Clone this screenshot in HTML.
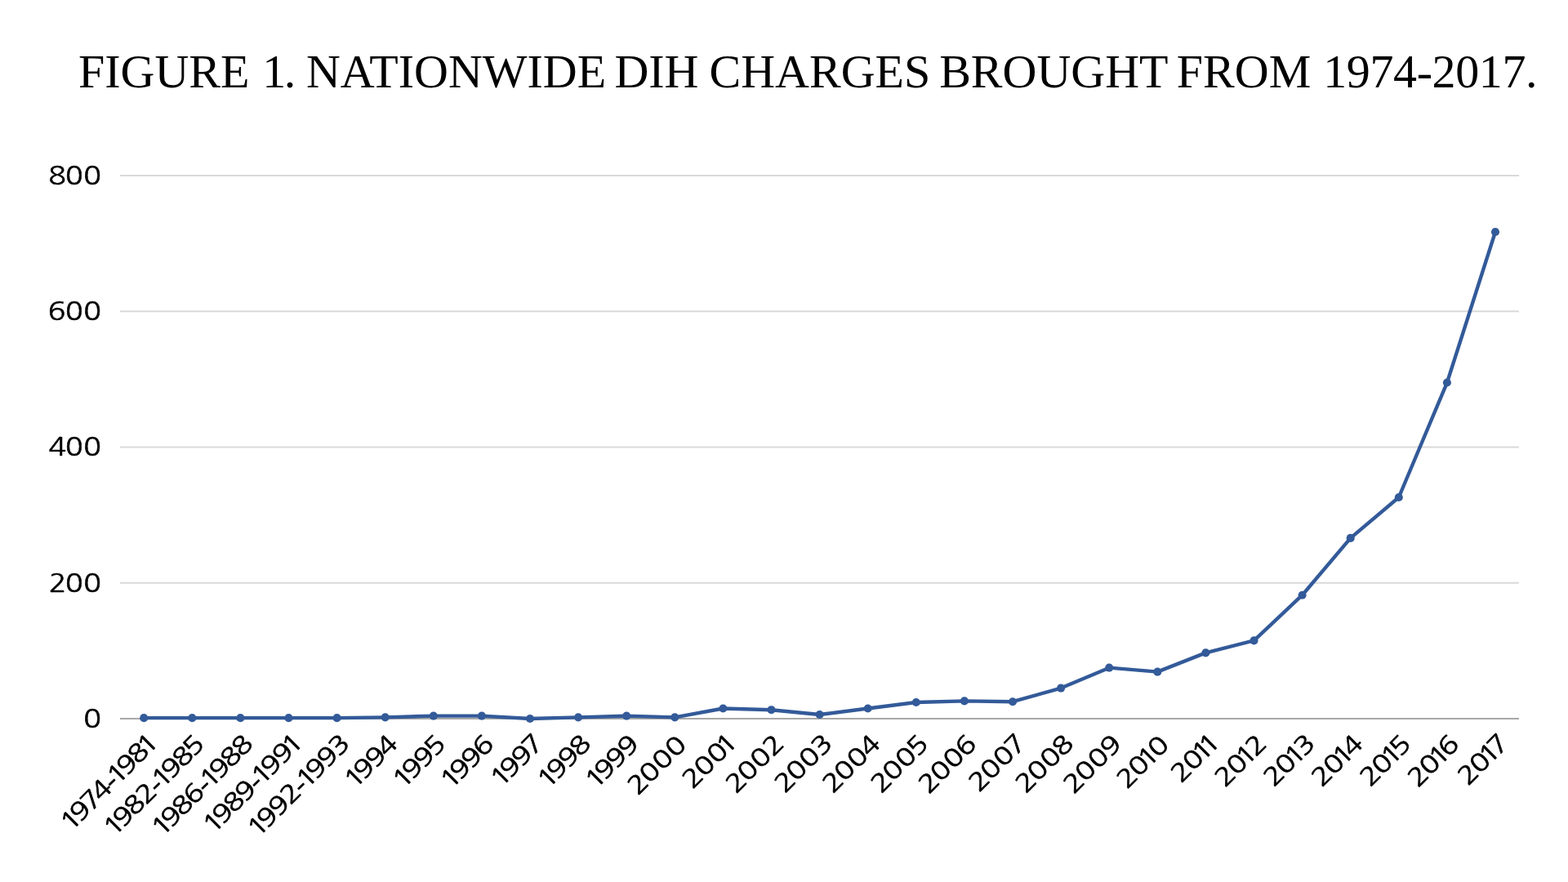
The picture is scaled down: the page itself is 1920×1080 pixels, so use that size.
<!DOCTYPE html>
<html lang="en">
<head>
<meta charset="utf-8">
<title>Figure 1. Nationwide DIH charges brought from 1974-2017.</title>
<style>
html,body{margin:0;padding:0;background:#fff;}
body{width:1920px;height:1080px;overflow:hidden;position:relative;}
svg{position:absolute;left:0;top:0;display:block;}
.title{font-family:"Liberation Serif",serif;font-size:58px;fill:#000;}
.lab{font-family:NanumGothic, "DejaVu Sans", "Liberation Sans", sans-serif;font-size:29.8px;fill:#000;stroke:#000;stroke-width:0.65;stroke-linejoin:round;}
.ylabels{stroke-width:0.5;}
.grid line{stroke:#d9d9d9;stroke-width:2;}
.axis{stroke:#a8a8a8;stroke-width:2;}
.series polyline{fill:none;stroke:#335a99;stroke-width:4.4;stroke-linejoin:round;stroke-linecap:round;}
.series circle{fill:#335a99;}
</style>
</head>
<body>
<svg width="1920" height="1080" viewBox="0 0 1920 1080">
<rect x="0" y="0" width="1920" height="1080" fill="#ffffff"/>
<text class="title" xml:space="preserve" y="107"><tspan x="96">FIGURE </tspan><tspan x="321.25" style="letter-spacing:-2.4px">1. </tspan><tspan x="374.95">NATIONWIDE </tspan><tspan x="752.4">DIH </tspan><tspan x="868.5">CHARGES </tspan><tspan x="1150.2">BROUGHT </tspan><tspan x="1440.8">FROM </tspan><tspan x="1620.2" style="letter-spacing:-0.39px">1974-2017.</tspan></text>
<g class="grid">
<line x1="147" y1="215" x2="1860" y2="215"/>
<line x1="147" y1="381.25" x2="1860" y2="381.25"/>
<line x1="147" y1="547.5" x2="1860" y2="547.5"/>
<line x1="147" y1="713.75" x2="1860" y2="713.75"/>
</g>
<line class="axis" x1="147" y1="880" x2="1860" y2="880"/>
<g class="lab ylabels">
<text transform="translate(124.45 225.95) scale(1.2 1)" x="-54.3 -36.99 -18.41" y="0">800</text>
<text transform="translate(124.45 392.2) scale(1.2 1)" x="-54.72 -36.99 -18.41" y="0">600</text>
<text transform="translate(124.45 558.45) scale(1.2 1)" x="-54.21 -36.99 -18.41" y="0">400</text>
<text transform="translate(124.45 724.7) scale(1.2 1)" x="-53.89 -36.99 -18.41" y="0">200</text>
<text transform="translate(124.45 890.95) scale(1.2 1)" x="-18.41" y="0">0</text>
</g>
<g class="series">
<polyline points="176.2,879.17 235.3,879.17 294.4,879.17 353.5,879.17 412.6,879.17 471.7,878.34 530.8,876.67 589.9,876.67 649,880 708.1,878.34 767.2,876.67 826.3,878.34 885.4,867.53 944.5,869.19 1003.6,875.01 1062.7,867.53 1121.8,860.05 1180.9,858.39 1240,859.22 1299.1,842.59 1358.2,817.66 1417.3,822.64 1476.4,799.37 1535.5,784.41 1594.6,728.71 1653.7,658.89 1712.8,609.01 1771.9,468.53 1831,283.99"/>
<circle cx="176.2" cy="879.17" r="5.05"/>
<circle cx="235.3" cy="879.17" r="5.05"/>
<circle cx="294.4" cy="879.17" r="5.05"/>
<circle cx="353.5" cy="879.17" r="5.05"/>
<circle cx="412.6" cy="879.17" r="5.05"/>
<circle cx="471.7" cy="878.34" r="5.05"/>
<circle cx="530.8" cy="876.67" r="5.05"/>
<circle cx="589.9" cy="876.67" r="5.05"/>
<circle cx="649" cy="880" r="5.05"/>
<circle cx="708.1" cy="878.34" r="5.05"/>
<circle cx="767.2" cy="876.67" r="5.05"/>
<circle cx="826.3" cy="878.34" r="5.05"/>
<circle cx="885.4" cy="867.53" r="5.05"/>
<circle cx="944.5" cy="869.19" r="5.05"/>
<circle cx="1003.6" cy="875.01" r="5.05"/>
<circle cx="1062.7" cy="867.53" r="5.05"/>
<circle cx="1121.8" cy="860.05" r="5.05"/>
<circle cx="1180.9" cy="858.39" r="5.05"/>
<circle cx="1240" cy="859.22" r="5.05"/>
<circle cx="1299.1" cy="842.59" r="5.05"/>
<circle cx="1358.2" cy="817.66" r="5.05"/>
<circle cx="1417.3" cy="822.64" r="5.05"/>
<circle cx="1476.4" cy="799.37" r="5.05"/>
<circle cx="1535.5" cy="784.41" r="5.05"/>
<circle cx="1594.6" cy="728.71" r="5.05"/>
<circle cx="1653.7" cy="658.89" r="5.05"/>
<circle cx="1712.8" cy="609.01" r="5.05"/>
<circle cx="1771.9" cy="468.53" r="5.05"/>
<circle cx="1831" cy="283.99" r="5.05"/>
</g>
<g class="lab xlabels">
<text transform="translate(192.5 913.3) rotate(-45) scale(1.2 1)" x="-124.95 -111.38 -95.9 -81.04 -64.57 -57.61 -44.04 -27.8 -14.28" y="0" dy="0 0 0 0 3.9 -3.9 0 0 0">1974-1981</text>
<text transform="translate(251.6 913.3) rotate(-45) scale(1.2 1)" x="-132.45 -118.88 -102.63 -85.89 -69.74 -62.78 -49.21 -32.97 -17.36" y="0" dy="0 0 0 0 3.9 -3.9 0 0 0">1982-1985</text>
<text transform="translate(310.7 913.3) rotate(-45) scale(1.2 1)" x="-132.95 -119.38 -103.13 -86.89 -69.91 -62.95 -49.38 -33.13 -17.13" y="0" dy="0 0 0 0 3.9 -3.9 0 0 0">1986-1988</text>
<text transform="translate(369.8 913.3) rotate(-45) scale(1.2 1)" x="-128.28 -114.71 -98.47 -82.04 -65.24 -58.28 -44.71 -28.04 -14.28" y="0" dy="0 0 0 0 3.9 -3.9 0 0 0">1989-1991</text>
<text transform="translate(428.9 913.3) rotate(-45) scale(1.2 1)" x="-133.61 -120.04 -103.38 -86.39 -70.24 -63.28 -49.71 -33.04 -16.48" y="0" dy="0 0 0 0 3.9 -3.9 0 0 0">1992-1993</text>
<text transform="translate(488 913.3) rotate(-45) scale(1.2 1)" x="-63.61 -50.04 -33.38 -17.04" y="0">1994</text>
<text transform="translate(547.1 913.3) rotate(-45) scale(1.2 1)" x="-63.45 -49.88 -33.21 -17.36" y="0">1995</text>
<text transform="translate(606.2 913.3) rotate(-45) scale(1.2 1)" x="-64.28 -50.71 -34.04 -17.56" y="0">1996</text>
<text transform="translate(665.3 913.3) rotate(-45) scale(1.2 1)" x="-61.61 -48.04 -31.38 -15.9" y="0">1997</text>
<text transform="translate(724.4 913.3) rotate(-45) scale(1.2 1)" x="-63.61 -50.04 -33.38 -17.13" y="0">1998</text>
<text transform="translate(783.5 913.3) rotate(-45) scale(1.2 1)" x="-64.28 -50.71 -34.04 -17.38" y="0">1999</text>
<text transform="translate(842.6 913.3) rotate(-45) scale(1.2 1)" x="-72.47 -55.58 -36.99 -18.41" y="0">2000</text>
<text transform="translate(901.7 913.3) rotate(-45) scale(1.2 1)" x="-63.22 -46.33 -27.74 -14.28" y="0">2001</text>
<text transform="translate(960.8 913.3) rotate(-45) scale(1.2 1)" x="-70.22 -53.33 -34.74 -16.72" y="0">2002</text>
<text transform="translate(1019.9 913.3) rotate(-45) scale(1.2 1)" x="-69.55 -52.66 -34.08 -16.48" y="0">2003</text>
<text transform="translate(1079 913.3) rotate(-45) scale(1.2 1)" x="-69.89 -52.99 -34.41 -17.04" y="0">2004</text>
<text transform="translate(1138.1 913.3) rotate(-45) scale(1.2 1)" x="-69.72 -52.83 -34.24 -17.36" y="0">2005</text>
<text transform="translate(1197.2 913.3) rotate(-45) scale(1.2 1)" x="-70.55 -53.66 -35.08 -17.56" y="0">2006</text>
<text transform="translate(1256.3 913.3) rotate(-45) scale(1.2 1)" x="-67.89 -50.99 -32.41 -15.9" y="0">2007</text>
<text transform="translate(1315.4 913.3) rotate(-45) scale(1.2 1)" x="-69.89 -52.99 -34.41 -17.13" y="0">2008</text>
<text transform="translate(1374.5 913.3) rotate(-45) scale(1.2 1)" x="-70.55 -53.66 -35.08 -17.38" y="0">2009</text>
<text transform="translate(1433.6 913.3) rotate(-45) scale(1.2 1)" x="-63.22 -46.33 -32.86 -18.41" y="0">2010</text>
<text transform="translate(1492.7 913.3) rotate(-45) scale(1.2 1)" x="-54.64 -37.74 -24.28 -14.28" y="0">2011</text>
<text transform="translate(1551.8 913.3) rotate(-45) scale(1.2 1)" x="-60.97 -44.08 -30.61 -16.72" y="0">2012</text>
<text transform="translate(1610.9 913.3) rotate(-45) scale(1.2 1)" x="-60.3 -43.41 -29.95 -16.48" y="0">2013</text>
<text transform="translate(1670 913.3) rotate(-45) scale(1.2 1)" x="-60.64 -43.74 -30.28 -17.04" y="0">2014</text>
<text transform="translate(1729.1 913.3) rotate(-45) scale(1.2 1)" x="-60.47 -43.58 -30.11 -17.36" y="0">2015</text>
<text transform="translate(1788.2 913.3) rotate(-45) scale(1.2 1)" x="-61.3 -44.41 -30.95 -17.56" y="0">2016</text>
<text transform="translate(1847.3 913.3) rotate(-45) scale(1.2 1)" x="-58.64 -41.74 -28.28 -15.9" y="0">2017</text>
</g>
</svg>
</body>
</html>
